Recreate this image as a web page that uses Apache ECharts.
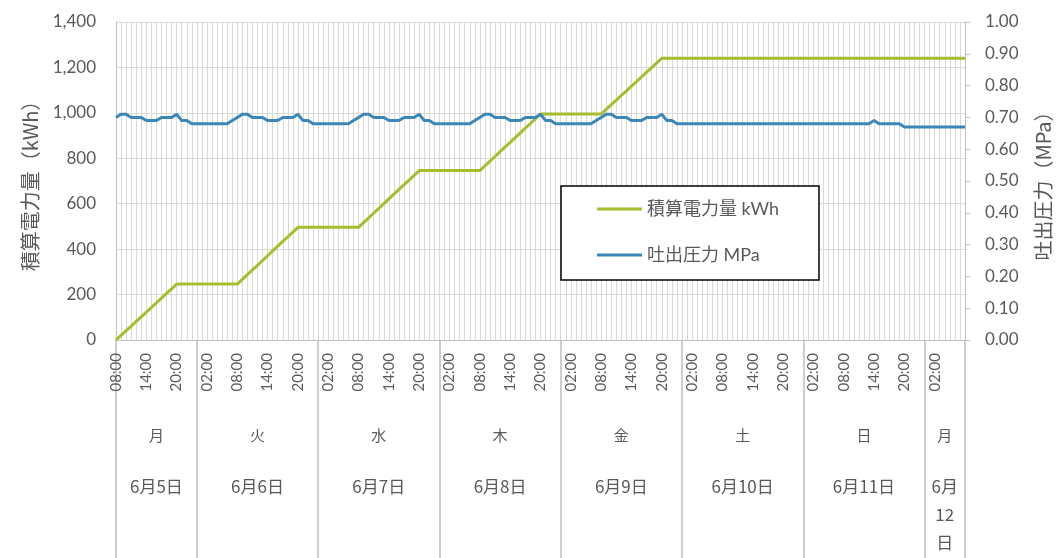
<!DOCTYPE html>
<html>
<head>
<meta charset="utf-8">
<script src="https://cdn.jsdelivr.net/npm/echarts@6/dist/echarts.min.js"></script>
<style>
html,body{margin:0;padding:0;background:#fff;}
#chart{width:1059px;height:558px;}
</style>
</head>
<body>
<div id="chart"></div>
<script>
// ---- data ----
const weekdays = ['月','火','水','木','金','土','日','月'];
const dates = ['6月5日','6月6日','6月7日','6月8日','6月9日','6月10日','6月11日','6月12日'];
const startHour = 8;     // first point: 6/5 08:00, hourly points
const hourTicks = ['02:00','08:00','14:00','20:00'];

// 積算電力量 kWh (hourly, 6/5 08:00 -> 6/12 08:00)
const kwh = [
  0,20,41,61,82,102,123,143,164,184,205,225,246,
  246,246,246,246,246,246,246,246,246,246,246,
  246,267,288,309,329,350,371,392,413,434,454,475,496,
  496,496,496,496,496,496,496,496,496,496,496,
  496,517,538,559,579,600,621,642,663,684,704,725,746,
  746,746,746,746,746,746,746,746,746,746,746,
  746,767,787,808,829,850,870,891,912,933,953,974,995,
  995,995,995,995,995,995,995,995,995,995,995,
  995,1015,1036,1056,1077,1097,1118,1138,1158,1179,1199,1220,1240,
  1240,1240,1240,1240,1240,1240,1240,1240,1240,1240,1240,1240,
  1240,1240,1240,1240,1240,1240,1240,1240,1240,1240,1240,1240,
  1240,1240,1240,1240,1240,1240,1240,1240,1240,1240,1240,1240,
  1240,1240,1240,1240,1240,1240,1240,1240,1240,1240,1240,1240,
  1240,1240,1240,1240,1240,1240,1240,1240,1240,1240,1240,1240
];

// 吐出圧力 MPa (hourly)
const mpa = [
  0.70,0.71,0.71,0.70,0.70,0.70,0.69,0.69,0.69,0.70,0.70,0.70,0.71,0.69,0.69,0.68,
  0.68,0.68,0.68,0.68,0.68,0.68,
  0.68,0.69,0.70,0.71,0.71,0.70,0.70,0.70,0.69,0.69,0.69,0.70,0.70,0.70,0.71,0.69,0.69,0.68,
  0.68,0.68,0.68,0.68,0.68,0.68,
  0.68,0.69,0.70,0.71,0.71,0.70,0.70,0.70,0.69,0.69,0.69,0.70,0.70,0.70,0.71,0.69,0.69,0.68,
  0.68,0.68,0.68,0.68,0.68,0.68,
  0.68,0.69,0.70,0.71,0.71,0.70,0.70,0.70,0.69,0.69,0.69,0.70,0.70,0.70,0.71,0.69,0.69,0.68,
  0.68,0.68,0.68,0.68,0.68,0.68,
  0.68,0.69,0.70,0.71,0.71,0.70,0.70,0.70,0.69,0.69,0.69,0.70,0.70,0.70,0.71,0.69,0.69,0.68,
  0.68,0.68,0.68,0.68,0.68,0.68,0.68,0.68,0.68,0.68,0.68,0.68,0.68,0.68,0.68,0.68,0.68,0.68,0.68,
  0.68,0.68,0.68,0.68,0.68,0.68,0.68,0.68,0.68,0.68,0.68,0.68,0.68,0.68,0.68,0.68,0.68,0.68,0.68,
  0.69,
  0.68,0.68,0.68,0.68,0.68,
  0.67,0.67,0.67,0.67,0.67,0.67,0.67,0.67,0.67,0.67,0.67,0.67,0.67
];

const seriesNames = ['積算電力量 kWh','吐出圧力 MPa'];
const yLeftName = '積算電力量（kWh）';
const yRightName = '吐出圧力（MPa）';

// ---- derived category info ----
const n = kwh.length;
const cats = [], hourOf = [], dayOf = [];
for (let i = 0; i < n; i++) {
  const t = startHour + i;
  const d = Math.floor(t / 24), h = t % 24;
  hourOf.push(h); dayOf.push(d);
  cats.push(dates[d] + ' ' + String(h).padStart(2,'0') + ':00');
}
// centre index of each day's visible segment
const dayCenter = {};
const dayRange = {};
for (let i = 0; i < n; i++) {
  const d = dayOf[i];
  if (!dayRange[d]) dayRange[d] = [i, i];
  dayRange[d][1] = i;
}
Object.keys(dayRange).forEach(d => {
  const s = dayRange[d][0], e = Math.min(n - 1, dayRange[d][1] + 1);
  dayCenter[Math.round((s + e) / 2)] = +d;
});

const FONT = "Lato, 'Noto Sans CJK JP', sans-serif";
const CJK = "'Noto Sans CJK JP', sans-serif";
const GREY = '#595959';
const GREEN = '#a6be2e';
const BLUE = '#3a87b8';

const chart = echarts.init(document.getElementById('chart'), null, {renderer: 'canvas'});
chart.setOption({
  animation: false,
  backgroundColor: '#fff',
  textStyle: {fontFamily: FONT},
  grid: {left: 116, right: 94, top: 22, bottom: 218, containLabel: false, outerBoundsMode: 'none'},
  legend: {
    orient: 'vertical',
    left: 561, top: 186,
    padding: [13, 40, 15, 36],
    itemGap: 26,
    itemWidth: 45, itemHeight: 3,
    icon: 'rect',
    borderColor: '#000', borderWidth: 1.5,
    backgroundColor: '#fff',
    textStyle: {fontSize: 18, color: GREY, fontFamily: FONT, lineHeight: 20},
    data: seriesNames
  },
  xAxis: [
    {
      type: 'category', data: cats, boundaryGap: false, position: 'bottom',
      axisLine: {lineStyle: {color: '#bfbfbf', width: 1}},
      axisTick: {show: false},
      splitLine: {show: true, interval: 0, lineStyle: {color: '#d9d9d9', width: 1}},
      axisLabel: {
        rotate: 90, margin: 13, fontSize: 15, color: GREY, fontFamily: FONT,
        interval: (i) => i < n - 1 && hourTicks.indexOf(String(hourOf[i]).padStart(2,'0') + ':00') >= 0,
        formatter: (v, i) => String(hourOf[i]).padStart(2,'0') + ':00'
      }
    },
    {
      type: 'category', data: cats, boundaryGap: false, position: 'bottom',
      axisLine: {show: false},
      axisTick: {
        show: true, length: 218,
        interval: (i) => i === 0 || i === n - 1 || hourOf[i] === 0,
        lineStyle: {color: '#bfbfbf', width: 1.5}
      },
      splitLine: {show: false},
      axisLabel: {
        margin: 85, fontSize: 15, lineHeight: 20, color: GREY, fontFamily: CJK,
        interval: (i) => dayCenter[i] !== undefined,
        formatter: (v, i) => weekdays[dayCenter[i]]
      }
    },
    {
      type: 'category', data: cats, boundaryGap: false, position: 'bottom',
      axisLine: {show: false},
      axisTick: {show: false},
      splitLine: {show: false},
      axisLabel: {
        margin: 133, fontSize: 17, lineHeight: 28, color: GREY, fontFamily: CJK,
        interval: (i) => dayCenter[i] !== undefined,
        formatter: (v, i) => {
          const d = dayCenter[i];
          const s = dates[d];
          const r = dayRange[d];
          if (r[1] - r[0] < 12) return s.replace(/^(\d+月)(\d+)(日)$/, '$1\n$2\n$3');
          return s;
        }
      }
    }
  ],
  yAxis: [
    {
      type: 'value', position: 'left', min: 0, max: 1400, interval: 200,
      name: yLeftName, nameLocation: 'middle', nameGap: 76, nameRotate: 90,
      nameTextStyle: {fontSize: 20, color: GREY, fontFamily: CJK},
      axisLine: {show: true, lineStyle: {color: '#bfbfbf'}},
      axisTick: {show: false},
      splitLine: {show: true, lineStyle: {color: '#d9d9d9', width: 1}},
      axisLabel: {
        margin: 20, fontSize: 17, color: GREY, fontFamily: FONT,
        formatter: (v) => v.toLocaleString('en-US')
      }
    },
    {
      type: 'value', position: 'right', min: 0, max: 1, interval: 0.1,
      name: yRightName, nameLocation: 'middle', nameGap: 68, nameRotate: 90,
      nameTextStyle: {fontSize: 20, color: GREY, fontFamily: CJK},
      axisLine: {show: true, lineStyle: {color: '#bfbfbf'}},
      axisTick: {show: true, length: 5, lineStyle: {color: '#bfbfbf'}},
      splitLine: {show: false},
      axisLabel: {
        margin: 20, fontSize: 17, color: GREY, fontFamily: FONT,
        formatter: (v) => v.toFixed(2)
      }
    }
  ],
  series: [
    {
      name: seriesNames[0], type: 'line', xAxisIndex: 0, yAxisIndex: 0,
      data: kwh, symbol: 'none', showSymbol: false,
      lineStyle: {color: GREEN, width: 3}, itemStyle: {color: GREEN}, z: 3
    },
    {
      name: seriesNames[1], type: 'line', xAxisIndex: 0, yAxisIndex: 1,
      data: mpa, symbol: 'none', showSymbol: false,
      lineStyle: {color: BLUE, width: 3}, itemStyle: {color: BLUE}, z: 4
    }
  ]
});
</script>
</body>
</html>
